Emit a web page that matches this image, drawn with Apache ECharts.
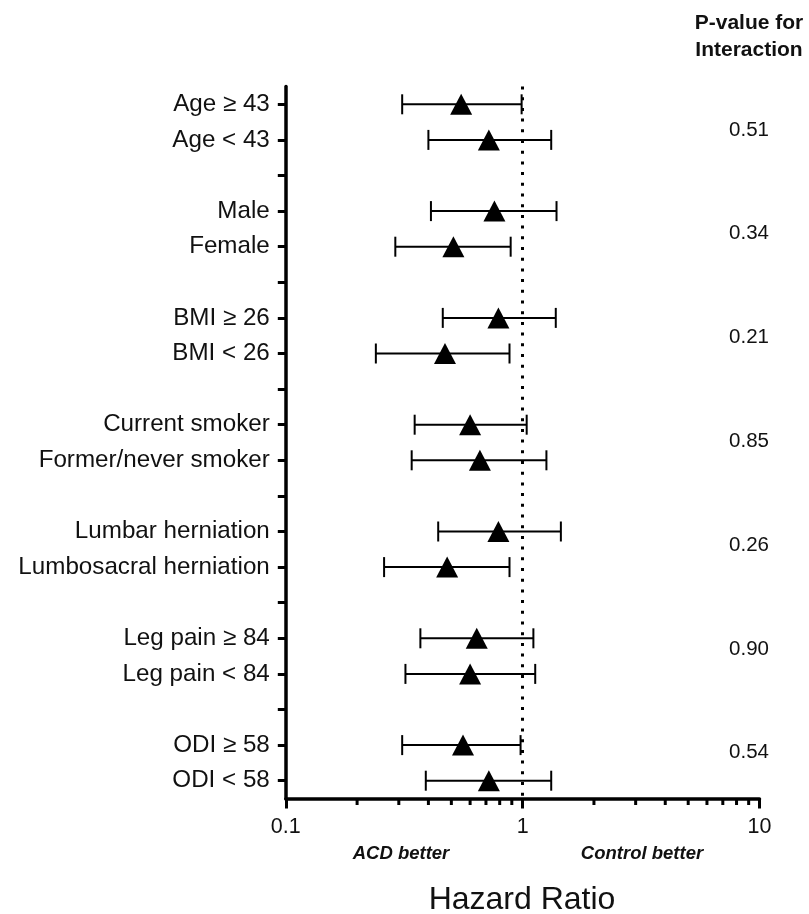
<!DOCTYPE html>
<html>
<head>
<meta charset="utf-8">
<script src="https://cdn.jsdelivr.net/npm/echarts@6/dist/echarts.min.js"></script>
<style>
html,body{margin:0;padding:0;background:#fff;}
#chart{width:809px;height:914px;}
</style>
</head>
<body>
<div id="chart"></div>
<script>
const categories = ['Age \u2265 43','Age < 43','', 'Male','Female','', 'BMI \u2265 26','BMI < 26','',
  'Current smoker','Former/never smoker','', 'Lumbar herniation','Lumbosacral herniation','',
  'Leg pain \u2265 84','Leg pain < 84','', 'ODI \u2265 58','ODI < 58'];
const hazardRatio = [0.55, 0.72, null, 0.76, 0.51, null, 0.79, 0.47, null, 0.60, 0.66, null, 0.79, 0.48, null, 0.64, 0.60, null, 0.56, 0.72];
const lowerCI     = [0.31, 0.40, null, 0.41, 0.29, null, 0.46, 0.24, null, 0.35, 0.34, null, 0.44, 0.26, null, 0.37, 0.32, null, 0.31, 0.39];
const upperCI     = [0.99, 1.32, null, 1.39, 0.89, null, 1.38, 0.88, null, 1.04, 1.26, null, 1.45, 0.88, null, 1.11, 1.13, null, 0.98, 1.32];
const pValues = ['0.51','0.34','0.21','0.85','0.26','0.90','0.54'];
const xTickLabels = ['0.1','1','10'];
const minorTicks = [0.2,0.3,0.4,0.5,0.6,0.7,0.8,0.9,2,3,4,5,6,7,8,9];

const FONT = '"Liberation Sans", Arial, Helvetica, sans-serif';
const chart = echarts.init(document.getElementById('chart'), null, {renderer:'canvas'});

const pointData = [];
const barData = [];
hazardRatio.forEach((v, i) => {
  if (v != null) {
    pointData.push([v, i]);
    barData.push([v, i, lowerCI[i], upperCI[i]]);
  }
});

const graphics = [
  {type:'text', x: 749, y: 23, style:{text:'P-value for', font:'bold 21px ' + FONT, fill:'#111', align:'center', verticalAlign:'middle'}},
  {type:'text', x: 749, y: 50, style:{text:'Interaction', font:'bold 21px ' + FONT, fill:'#111', align:'center', verticalAlign:'middle'}},
  {type:'text', x: 401, y: 854, style:{text:'ACD better', font:'italic bold 18.5px ' + FONT, fill:'#111', align:'center', verticalAlign:'middle'}},
  {type:'text', x: 642, y: 854, style:{text:'Control better', font:'italic bold 18.5px ' + FONT, fill:'#111', align:'center', verticalAlign:'middle'}},
  {type:'text', x: 522, y: 900, style:{text:'Hazard Ratio', font:'32px ' + FONT, fill:'#111', align:'center', verticalAlign:'middle'}}
];
pValues.forEach((p, k) => {
  graphics.push({type:'text', x: 749, y: 130 + k * 103.8,
    style:{text:p, font:'20.5px ' + FONT, fill:'#111', align:'center', verticalAlign:'middle'}});
});

const option = {
  animation: false,
  backgroundColor: '#fff',
  grid: {left: 285.8, right: 49.5, top: 86.5, bottom: 115.5, containLabel: false},
  xAxis: {
    type: 'log', logBase: 10, min: 0.1, max: 10,
    axisLine: {show: true, lineStyle: {color: '#000', width: 3.5}},
    axisTick: {show: true, length: 10, lineStyle: {color: '#000', width: 3}},
    axisLabel: {
      fontSize: 21.5, color: '#111', fontFamily: FONT, margin: 18,
      formatter: function (v) {
        const idx = Math.round(Math.log10(v)) + 1;
        return xTickLabels[idx] !== undefined ? xTickLabels[idx] : '';
      }
    },
    splitLine: {show: false},
    minorTick: {show: false}
  },
  yAxis: {
    type: 'category', inverse: true, data: categories,
    axisLine: {show: true, lineStyle: {color: '#000', width: 3.5}},
    axisTick: {show: true, alignWithLabel: true, length: 8, lineStyle: {color: '#000', width: 3}},
    axisLabel: {fontSize: 24.2, color: '#111', fontFamily: FONT, margin: 16, interval: 0},
    splitLine: {show: false}
  },
  graphic: graphics,
  series: [
    {
      type: 'custom', name: 'minor ticks', silent: true, clip: false, z: 3,
      data: minorTicks.map(v => [v, 0]),
      renderItem: function (params, api) {
        const cs = params.coordSys;
        const p = api.coord([api.value(0), 0]);
        const yb = cs.y + cs.height;
        return {type: 'line', shape: {x1: p[0], y1: yb, x2: p[0], y2: yb + 6.5},
          style: {stroke: '#000', lineWidth: 3}};
      }
    },
    {
      type: 'custom', name: 'CI', silent: true, z: 4,
      data: barData,
      encode: {x: [0, 2, 3], y: 1},
      renderItem: function (params, api) {
        const y = api.value(1);
        const lo = api.coord([api.value(2), y]);
        const hi = api.coord([api.value(3), y]);
        const h = 10;
        const st = {stroke: '#000', lineWidth: 2};
        return {type: 'group', children: [
          {type: 'line', shape: {x1: lo[0], y1: lo[1], x2: hi[0], y2: hi[1]}, style: st},
          {type: 'line', shape: {x1: lo[0], y1: lo[1] - h, x2: lo[0], y2: lo[1] + h}, style: st},
          {type: 'line', shape: {x1: hi[0], y1: hi[1] - h, x2: hi[0], y2: hi[1] + h}, style: st}
        ]};
      }
    },
    {
      type: 'scatter', name: 'HR', z: 5, silent: true,
      symbol: 'triangle', symbolSize: [22, 21],
      itemStyle: {color: '#000', opacity: 1},
      data: pointData,
      markLine: {
        silent: true, symbol: ['none', 'none'], animation: false,
        label: {show: false},
        lineStyle: {color: '#000', type: [3, 7.7], width: 3, opacity: 1},
        emphasis: {disabled: true},
        data: [{xAxis: 1}]
      }
    }
  ]
};
chart.setOption(option);
</script>
</body>
</html>
